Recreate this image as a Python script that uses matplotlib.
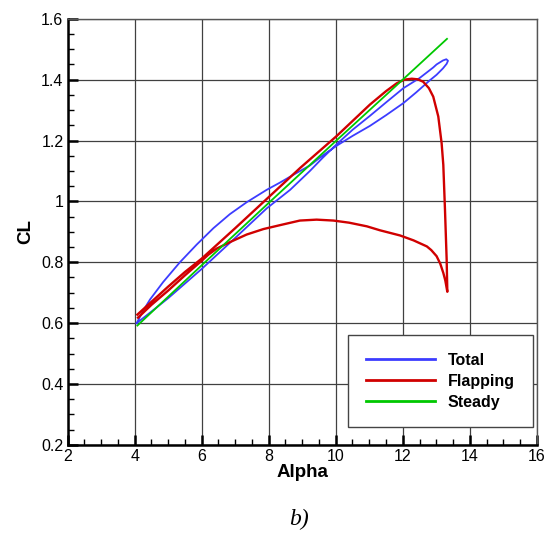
import matplotlib
matplotlib.use("Agg")
import matplotlib.pyplot as plt
from matplotlib.ticker import MultipleLocator

# ---- data ----
total_alpha = [4.06, 4.25, 4.46, 4.85, 5.35, 5.85, 6.35, 6.84, 7.34, 7.94, 8.34, 8.73,
               9.23, 9.60, 10.03, 10.50, 11.02, 11.50, 12.02, 12.40, 12.81, 13.01, 13.20,
               13.31, 13.35, 13.30, 13.20, 13.01, 12.91, 12.50, 12.02, 11.50, 11.02, 10.50,
               10.03, 9.60, 9.23, 8.64, 7.94, 7.00, 6.00, 5.00, 4.50, 4.06]
total_cl = [0.600, 0.640, 0.678, 0.735, 0.800, 0.858, 0.912, 0.958, 0.997, 1.038, 1.062, 1.087,
            1.118, 1.150, 1.183, 1.215, 1.248, 1.283, 1.323, 1.358, 1.398, 1.416, 1.437,
            1.452, 1.462, 1.467, 1.463, 1.450, 1.440, 1.405, 1.372, 1.325, 1.281, 1.235,
            1.188, 1.142, 1.100, 1.038, 0.977, 0.880, 0.778, 0.682, 0.638, 0.600]

flap_alpha = [4.08, 4.50, 5.00, 5.50, 6.00, 7.00, 8.00, 8.94, 10.03, 11.02, 11.50, 11.82,
              12.05, 12.27, 12.45, 12.61, 12.78, 12.91, 13.06, 13.16, 13.21, 13.26, 13.31,
              13.33, 13.27, 13.21, 13.12, 13.01, 12.85, 12.72, 12.32, 11.92, 11.32, 10.93,
              10.40, 9.93, 9.43, 8.93, 8.34, 7.84, 7.34, 6.84, 6.45, 6.20, 6.00, 5.50,
              5.00, 4.50, 4.10]
flap_cl = [0.628, 0.670, 0.720, 0.768, 0.812, 0.912, 1.014, 1.110, 1.215, 1.318, 1.362, 1.388,
           1.400, 1.403, 1.401, 1.393, 1.372, 1.344, 1.279, 1.191, 1.120, 0.973, 0.809,
           0.703, 0.740, 0.765, 0.795, 0.820, 0.840, 0.852, 0.872, 0.888, 0.905, 0.918,
           0.930, 0.937, 0.940, 0.937, 0.922, 0.909, 0.891, 0.866, 0.845, 0.825, 0.805,
           0.757, 0.707, 0.660, 0.618]

steady_alpha = [4.08, 6.00, 8.00, 10.00, 12.00, 13.32]
steady_cl = [0.592, 0.790, 0.995, 1.198, 1.400, 1.534]

x_ticks = [2, 4, 6, 8, 10, 12, 14, 16]
y_ticks = [0.2, 0.4, 0.6, 0.8, 1.0, 1.2, 1.4, 1.6]
y_ticklabels = ["0.2", "0.4", "0.6", "0.8", "1", "1.2", "1.4", "1.6"]

plt.rcParams['font.family'] = ['Liberation Sans', 'DejaVu Sans']

fig = plt.figure(figsize=(5.5, 5.36), dpi=100)
ax = fig.add_axes([0.123, 0.170, 0.853, 0.795])

ax.plot(total_alpha, total_cl, color='#3c3cff', lw=1.3, label='Total')
ax.plot(flap_alpha, flap_cl, color='#d00000', lw=1.7, label='Flapping')
ax.plot(steady_alpha, steady_cl, color='#00c800', lw=1.3, label='Steady')

ax.set_xlim(2, 16)
ax.set_ylim(0.2, 1.6)
ax.set_xticks(x_ticks)
ax.set_yticks(y_ticks)
ax.set_yticklabels(y_ticklabels)
ax.xaxis.set_minor_locator(MultipleLocator(0.5))
ax.yaxis.set_minor_locator(MultipleLocator(0.05))
ax.grid(True, which='major', color='#404040', lw=0.9)
ax.set_axisbelow(True)

ax.tick_params(which='major', direction='in', length=7.5, width=1.8, labelsize=11.5,
               pad=3, top=False, right=False)
ax.tick_params(which='minor', direction='in', length=4.3, width=1.0, top=False, right=False)

for s in ['left', 'bottom']:
    ax.spines[s].set_linewidth(1.8)
    ax.spines[s].set_color('black')
for s in ['top', 'right']:
    ax.spines[s].set_linewidth(1.0)
    ax.spines[s].set_color('#555555')

ax.set_xlabel('Alpha', fontsize=13.5, fontweight='bold', labelpad=0)
ax.set_ylabel('CL', fontsize=13.5, fontweight='bold', labelpad=5)

leg = ax.legend(loc='lower right', bbox_to_anchor=(0.991, 0.041), fancybox=False,
                framealpha=1, edgecolor='#444444', borderpad=1.12, handlelength=4.3,
                handletextpad=0.8, labelspacing=0.36, borderaxespad=0,
                prop={'weight': 'bold', 'size': 11.5})
leg.get_frame().set_linewidth(1.0)
for line in leg.get_lines():
    line.set_linewidth(2.0)

fig.text(0.544, 0.012, 'b)', fontsize=17, style='italic',
         family=['Liberation Serif', 'DejaVu Serif'], ha='center', va='bottom')

fig.savefig('out.png', dpi=100)
